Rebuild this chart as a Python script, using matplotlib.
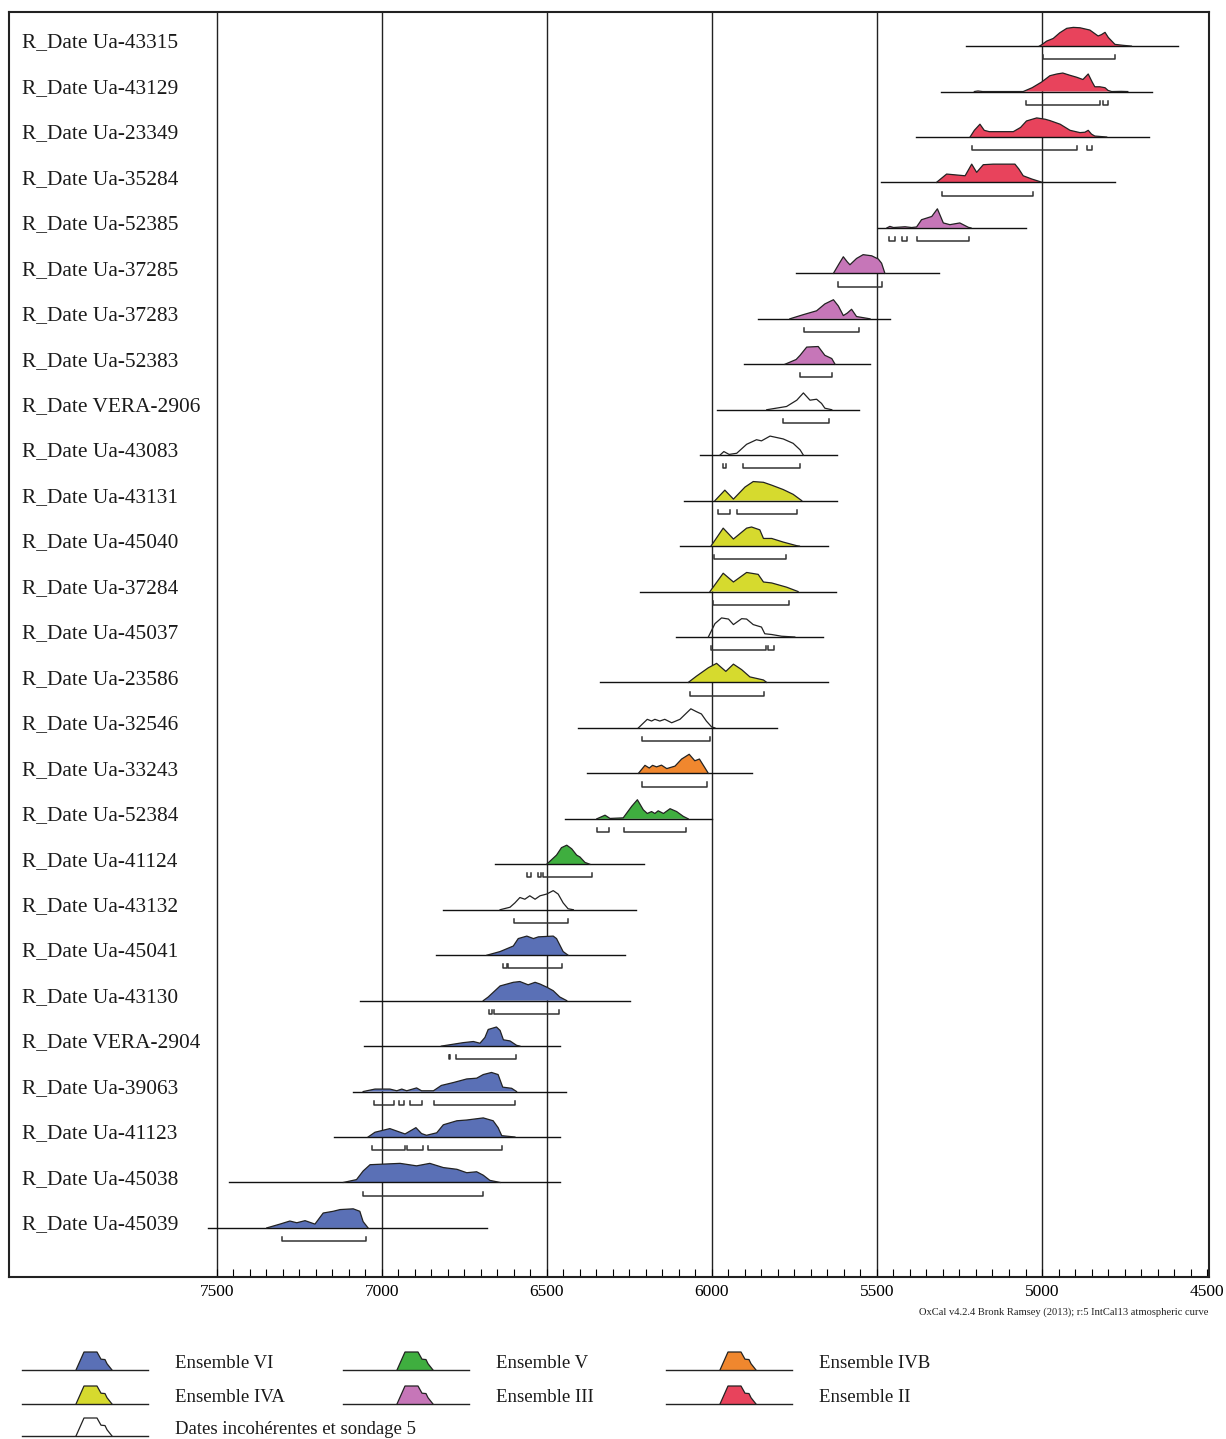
import matplotlib.pyplot as plt
import matplotlib.transforms as mtransforms
import numpy as np

plt.rcParams['font.family'] = ['Liberation Serif', 'DejaVu Serif']

# colours of the ensembles
COLORS = {
    'VI': '#5a70b6',
    'V': '#3fae3f',
    'IVB': '#f0872e',
    'IVA': '#d6da2e',
    'III': '#c676b8',
    'II': '#e8435c',
    'X': 'none',
}

labels = [
    'R_Date Ua-43315', 'R_Date Ua-43129', 'R_Date Ua-23349', 'R_Date Ua-35284',
    'R_Date Ua-52385', 'R_Date Ua-37285', 'R_Date Ua-37283', 'R_Date Ua-52383',
    'R_Date VERA-2906', 'R_Date Ua-43083', 'R_Date Ua-43131', 'R_Date Ua-45040',
    'R_Date Ua-37284', 'R_Date Ua-45037', 'R_Date Ua-23586', 'R_Date Ua-32546',
    'R_Date Ua-33243', 'R_Date Ua-52384', 'R_Date Ua-41124', 'R_Date Ua-43132',
    'R_Date Ua-45041', 'R_Date Ua-43130', 'R_Date VERA-2904', 'R_Date Ua-39063',
    'R_Date Ua-41123', 'R_Date Ua-45038', 'R_Date Ua-45039',
]

groups = ['II', 'II', 'II', 'II', 'III', 'III', 'III', 'III', 'X', 'X',
          'IVA', 'IVA', 'IVA', 'X', 'IVA', 'X', 'IVB', 'V', 'V', 'X',
          'VI', 'VI', 'VI', 'VI', 'VI', 'VI', 'VI']

# extent of the baseline of each date (cal BP)
line_start = [5231, 5306, 5382, 5488, 5496, 5744, 5860, 5902, 5986, 6036,
              6084, 6098, 6219, 6108, 6339, 6406, 6380, 6446, 6658, 6816,
              6835, 7067, 7055, 7089, 7146, 7463, 7526]
line_end = [4588, 4668, 4675, 4779, 5047, 5311, 5461, 5521, 5554, 5622,
            5622, 5647, 5625, 5663, 5647, 5803, 5880, 6001, 6206, 6230,
            6264, 6249, 6459, 6442, 6459, 6461, 6683]

# calibrated probability (year, relative density)
profiles = [
    [(5008, 0), (5000, 0.08), (4986, 0.26), (4966, 0.4), (4946, 0.7), (4925, 0.93), (4905, 0.98),
     (4885, 0.96), (4870, 0.9), (4855, 0.84), (4830, 0.53), (4820, 0.6), (4809, 0.72), (4799, 0.45),
     (4779, 0.09), (4754, 0.04), (4729, 0)],
    [(5205, 0), (5194, 0.03), (5180, 0), (5057, 0), (5030, 0.2), (5001, 0.5), (4976, 0.83), (4955, 0.92),
     (4937, 0.97), (4915, 0.85), (4895, 0.75), (4876, 0.63), (4860, 0.92), (4848, 0.5), (4840, 0.25),
     (4825, 0.25), (4809, 0.2), (4800, 0.06), (4789, 0), (4760, 0.01), (4740, 0)],
    [(5218, 0), (5205, 0.35), (5188, 0.67), (5175, 0.35), (5160, 0.28), (5087, 0.28), (5065, 0.5),
     (5047, 0.84), (5016, 1.0), (4990, 0.93), (4976, 0.86), (4945, 0.67), (4915, 0.35), (4885, 0.23),
     (4870, 0.25), (4860, 0.35), (4850, 0.15), (4840, 0.05), (4804, 0)],
    [(5320, 0), (5289, 0.44), (5233, 0.35), (5213, 0.96), (5198, 0.53), (5178, 0.93), (5148, 0.96),
     (5082, 0.96), (5070, 0.7), (5057, 0.35), (5031, 0.18), (4998, 0)],
    [(5470, 0), (5461, 0.08), (5450, 0.02), (5415, 0.06), (5395, 0.02), (5380, 0.05), (5365, 0.43),
     (5334, 0.6), (5317, 1.0), (5299, 0.26), (5279, 0.17), (5249, 0.26), (5223, 0.03), (5215, 0)],
    [(5632, 0), (5615, 0.5), (5602, 0.87), (5590, 0.6), (5582, 0.45), (5562, 0.78), (5542, 0.98),
     (5516, 0.92), (5496, 0.75), (5486, 0.53), (5476, 0)],
    [(5764, 0), (5723, 0.22), (5683, 0.42), (5658, 0.78), (5632, 1.0), (5617, 0.67), (5602, 0.17),
     (5590, 0.3), (5577, 0.5), (5562, 0.12), (5521, 0)],
    [(5779, 0), (5745, 0.25), (5733, 0.47), (5713, 0.9), (5678, 0.93), (5658, 0.47), (5637, 0.3),
     (5627, 0)],
    [(5834, 0), (5774, 0.17), (5743, 0.5), (5723, 0.88), (5703, 0.5), (5683, 0.55), (5668, 0.33),
     (5658, 0.08), (5637, 0)],
    [(5976, 0), (5964, 0.19), (5948, 0.04), (5925, 0.1), (5895, 0.57), (5865, 0.81), (5850, 0.75),
     (5824, 1.0), (5784, 0.85), (5754, 0.62), (5733, 0.28), (5723, 0)],
    [(5991, 0), (5961, 0.55), (5935, 0.08), (5900, 0.71), (5875, 1.0), (5844, 0.96), (5819, 0.81),
     (5784, 0.58), (5754, 0.33), (5728, 0)],
    [(6003, 0), (5966, 0.94), (5935, 0.37), (5895, 0.94), (5880, 1.0), (5855, 0.85), (5844, 0.4),
     (5819, 0.4), (5784, 0.21), (5743, 0.02), (5735, 0)],
    [(6006, 0), (5966, 0.96), (5935, 0.5), (5895, 1.0), (5860, 0.9), (5844, 0.5), (5819, 0.45),
     (5774, 0.23), (5739, 0)],
    [(6011, 0), (5991, 0.7), (5971, 1.0), (5950, 0.94), (5935, 0.65), (5910, 0.96), (5895, 0.94),
     (5875, 0.65), (5850, 0.52), (5840, 0.17), (5819, 0.13), (5789, 0.04), (5749, 0)],
    [(6072, 0), (6047, 0.33), (6011, 0.77), (5986, 1.0), (5958, 0.58), (5935, 0.96), (5910, 0.67),
     (5885, 0.29), (5844, 0.13), (5834, 0)],
    [(6223, 0), (6196, 0.45), (6183, 0.36), (6173, 0.45), (6158, 0.36), (6143, 0.45), (6122, 0.27),
     (6097, 0.45), (6064, 1.0), (6047, 0.85), (6032, 0.73), (6017, 0.36), (6001, 0.05), (5991, 0)],
    [(6223, 0), (6203, 0.42), (6190, 0.28), (6180, 0.42), (6168, 0.34), (6153, 0.43), (6137, 0.25),
     (6112, 0.38), (6092, 0.75), (6069, 1.0), (6052, 0.66), (6038, 0.75), (6021, 0.28), (6011, 0)],
    [(6349, 0), (6324, 0.19), (6309, 0.02), (6269, 0.05), (6243, 0.66), (6226, 1.0), (6208, 0.47),
     (6196, 0.28), (6183, 0.38), (6173, 0.28), (6163, 0.42), (6147, 0.28), (6127, 0.53), (6107, 0.38),
     (6087, 0.13), (6072, 0)],
    [(6501, 0), (6471, 0.48), (6456, 0.87), (6440, 1.0), (6425, 0.81), (6410, 0.48), (6400, 0.38),
     (6385, 0.1), (6370, 0)],
    [(6642, 0), (6612, 0.13), (6597, 0.36), (6582, 0.64), (6567, 0.55), (6552, 0.73), (6536, 0.55),
     (6521, 0.73), (6501, 0.82), (6481, 1.0), (6466, 0.82), (6451, 0.36), (6436, 0.05), (6420, 0)],
    [(6682, 0), (6642, 0.19), (6602, 0.48), (6587, 0.87), (6561, 1.0), (6541, 0.87), (6526, 0.96),
     (6481, 1.0), (6471, 0.87), (6451, 0.19), (6436, 0)],
    [(6693, 0), (6678, 0.19), (6642, 0.77), (6602, 0.96), (6582, 1.0), (6557, 0.83), (6536, 0.96),
     (6521, 0.87), (6501, 0.71), (6481, 0.52), (6461, 0.19), (6440, 0)],
    [(6820, 0), (6754, 0.18), (6723, 0.24), (6703, 0.15), (6688, 0.45), (6678, 0.87), (6653, 1.0),
     (6642, 0.82), (6632, 0.33), (6612, 0.27), (6592, 0.04), (6582, 0)],
    [(7057, 0), (7021, 0.13), (6976, 0.13), (6955, 0.04), (6940, 0.13), (6925, 0.04), (6895, 0.19),
     (6880, 0.04), (6844, 0.04), (6820, 0.32), (6784, 0.47), (6743, 0.66), (6713, 0.7), (6693, 0.89),
     (6668, 1.0), (6648, 0.89), (6634, 0.23), (6607, 0.17), (6592, 0)],
    [(7042, 0), (7021, 0.25), (6976, 0.44), (6945, 0.25), (6930, 0.16), (6897, 0.49), (6880, 0.18),
     (6865, 0.09), (6834, 0.22), (6814, 0.64), (6773, 0.85), (6743, 0.89), (6693, 1.0), (6663, 0.85),
     (6648, 0.49), (6637, 0.07), (6597, 0)],
    [(7117, 0), (7077, 0.15), (7057, 0.6), (7036, 0.93), (6945, 1.0), (6895, 0.87), (6855, 1.0),
     (6814, 0.78), (6773, 0.69), (6743, 0.51), (6713, 0.56), (6693, 0.38), (6673, 0.11), (6642, 0)],
    [(7349, 0), (7309, 0.2), (7279, 0.36), (7258, 0.27), (7233, 0.38), (7203, 0.2), (7178, 0.78),
     (7148, 0.87), (7127, 0.96), (7087, 1.0), (7067, 0.87), (7057, 0.33), (7042, 0)],
]

# 95.4% ranges
ranges = [
    [(4998, 4779)],
    [(5047, 4824), (4814, 4799)],
    [(5211, 4895), (4865, 4848)],
    [(5302, 5027)],
    [(5464, 5446), (5423, 5410), (5380, 5220)],
    [(5619, 5484)],
    [(5720, 5556)],
    [(5733, 5636)],
    [(5784, 5645)],
    [(5966, 5956), (5905, 5733)],
    [(5981, 5945), (5925, 5742)],
    [(5994, 5777)],
    [(5997, 5766)],
    [(6003, 5835), (5831, 5812)],
    [(6066, 5843)],
    [(6213, 6006)],
    [(6213, 6016)],
    [(6349, 6311), (6266, 6079)],
    [(6560, 6549), (6526, 6519), (6511, 6365)],
    [(6600, 6436)],
    [(6632, 6622), (6619, 6454)],
    [(6676, 6668), (6661, 6463)],
    [(6797, 6794), (6777, 6594)],
    [(7023, 6964), (6949, 6932), (6915, 6878), (6842, 6596)],
    [(7029, 6930), (6923, 6875), (6860, 6637)],
    [(7058, 6693)],
    [(7304, 7049)],
]

legend_names = ['Ensemble VI', 'Ensemble V', 'Ensemble IVB',
                'Ensemble IVA', 'Ensemble III', 'Ensemble II',
                'Dates incohérentes et sondage 5']
legend_groups = ['VI', 'V', 'IVB', 'IVA', 'III', 'II', 'X']

PEAK = 0.42      # height of a distribution in row units
BR_OFF = 0.29    # range bracket below baseline
BR_TICK = 0.09

fig = plt.figure(figsize=(12.26, 14.39), dpi=100)
ax = fig.add_axes([9 / 1226, 1 - 1277 / 1439, 1200 / 1226, 1265 / 1439])

ax.set_xlim(8130, 4494)
ax.set_ylim(27.08, -0.75)

for x in [7500, 7000, 6500, 6000, 5500, 5000]:
    ax.axvline(x, color='#222222', lw=1.0, zorder=1)

trans = mtransforms.blended_transform_factory(ax.transAxes, ax.transData)

for i, lab in enumerate(labels):
    ax.plot([line_start[i], line_end[i]], [i, i], color='#111111', lw=1.0, zorder=3)
    yrs = np.array([p[0] for p in profiles[i]], dtype=float)
    h = np.array([p[1] for p in profiles[i]]) * PEAK
    col = COLORS[groups[i]]
    if col != 'none':
        ax.fill_between(yrs, i, i - h, facecolor=col, edgecolor='none', zorder=2)
    ax.plot(yrs, i - h, color='#222222', lw=0.9, zorder=4)
    yb = i + BR_OFF
    for a, b in ranges[i]:
        ax.plot([a, a, b, b], [yb - BR_TICK, yb, yb, yb - BR_TICK],
                color='#333333', lw=1.1, zorder=3)
    ax.text(0.0108, i + 0.03, lab, transform=trans, fontsize=15.4,
            va='baseline', ha='left', color='#1a1a1a')

ax.set_xticks(np.arange(7500, 4499, -500))
ax.set_xticks(np.arange(7500, 4499, -50), minor=True)
ax.set_yticks([])
ax.tick_params(axis='x', which='both', direction='in', length=5.5, width=0.8, pad=5,
               labelsize=12.5)
for sp in ax.spines.values():
    sp.set_linewidth(1.5)
    sp.set_color('#222222')

# legend and credit line, in pixel coordinates
lax = fig.add_axes([0, 0, 1, 1])
lax.set_xlim(0, 1226)
lax.set_ylim(1439, 0)
lax.axis('off')
lax.patch.set_alpha(0)

lax.text(1208, 1312, 'OxCal v4.2.4 Bronk Ramsey (2013); r:5 IntCal13 atmospheric curve',
         fontsize=7.6, ha='right', va='center', color='#222222')

glyph_x = [0, 8, 10, 19, 21, 25, 29, 31, 36]
glyph_h = [0, 1.0, 1.0, 1.0, 1.0, 0.6, 0.58, 0.35, 0]
col_x = [22, 343, 666]
row_y = [1370, 1404, 1436]
for k, (name, g) in enumerate(zip(legend_names, legend_groups)):
    x0 = col_x[k % 3]
    y0 = row_y[k // 3]
    lax.plot([x0, x0 + 126], [y0, y0], color='#222222', lw=1.0)
    gx = np.array(glyph_x) + x0 + 54
    gy = y0 - np.array(glyph_h) * 18
    if COLORS[g] != 'none':
        lax.fill_between(gx, y0, gy, facecolor=COLORS[g], edgecolor='none')
    lax.plot(gx, gy, color='#222222', lw=0.9)
    lax.text(x0 + 153, y0 - 6, name, fontsize=13.5, ha='left', va='center', color='#1a1a1a')

fig.savefig('out.png', dpi=100)
